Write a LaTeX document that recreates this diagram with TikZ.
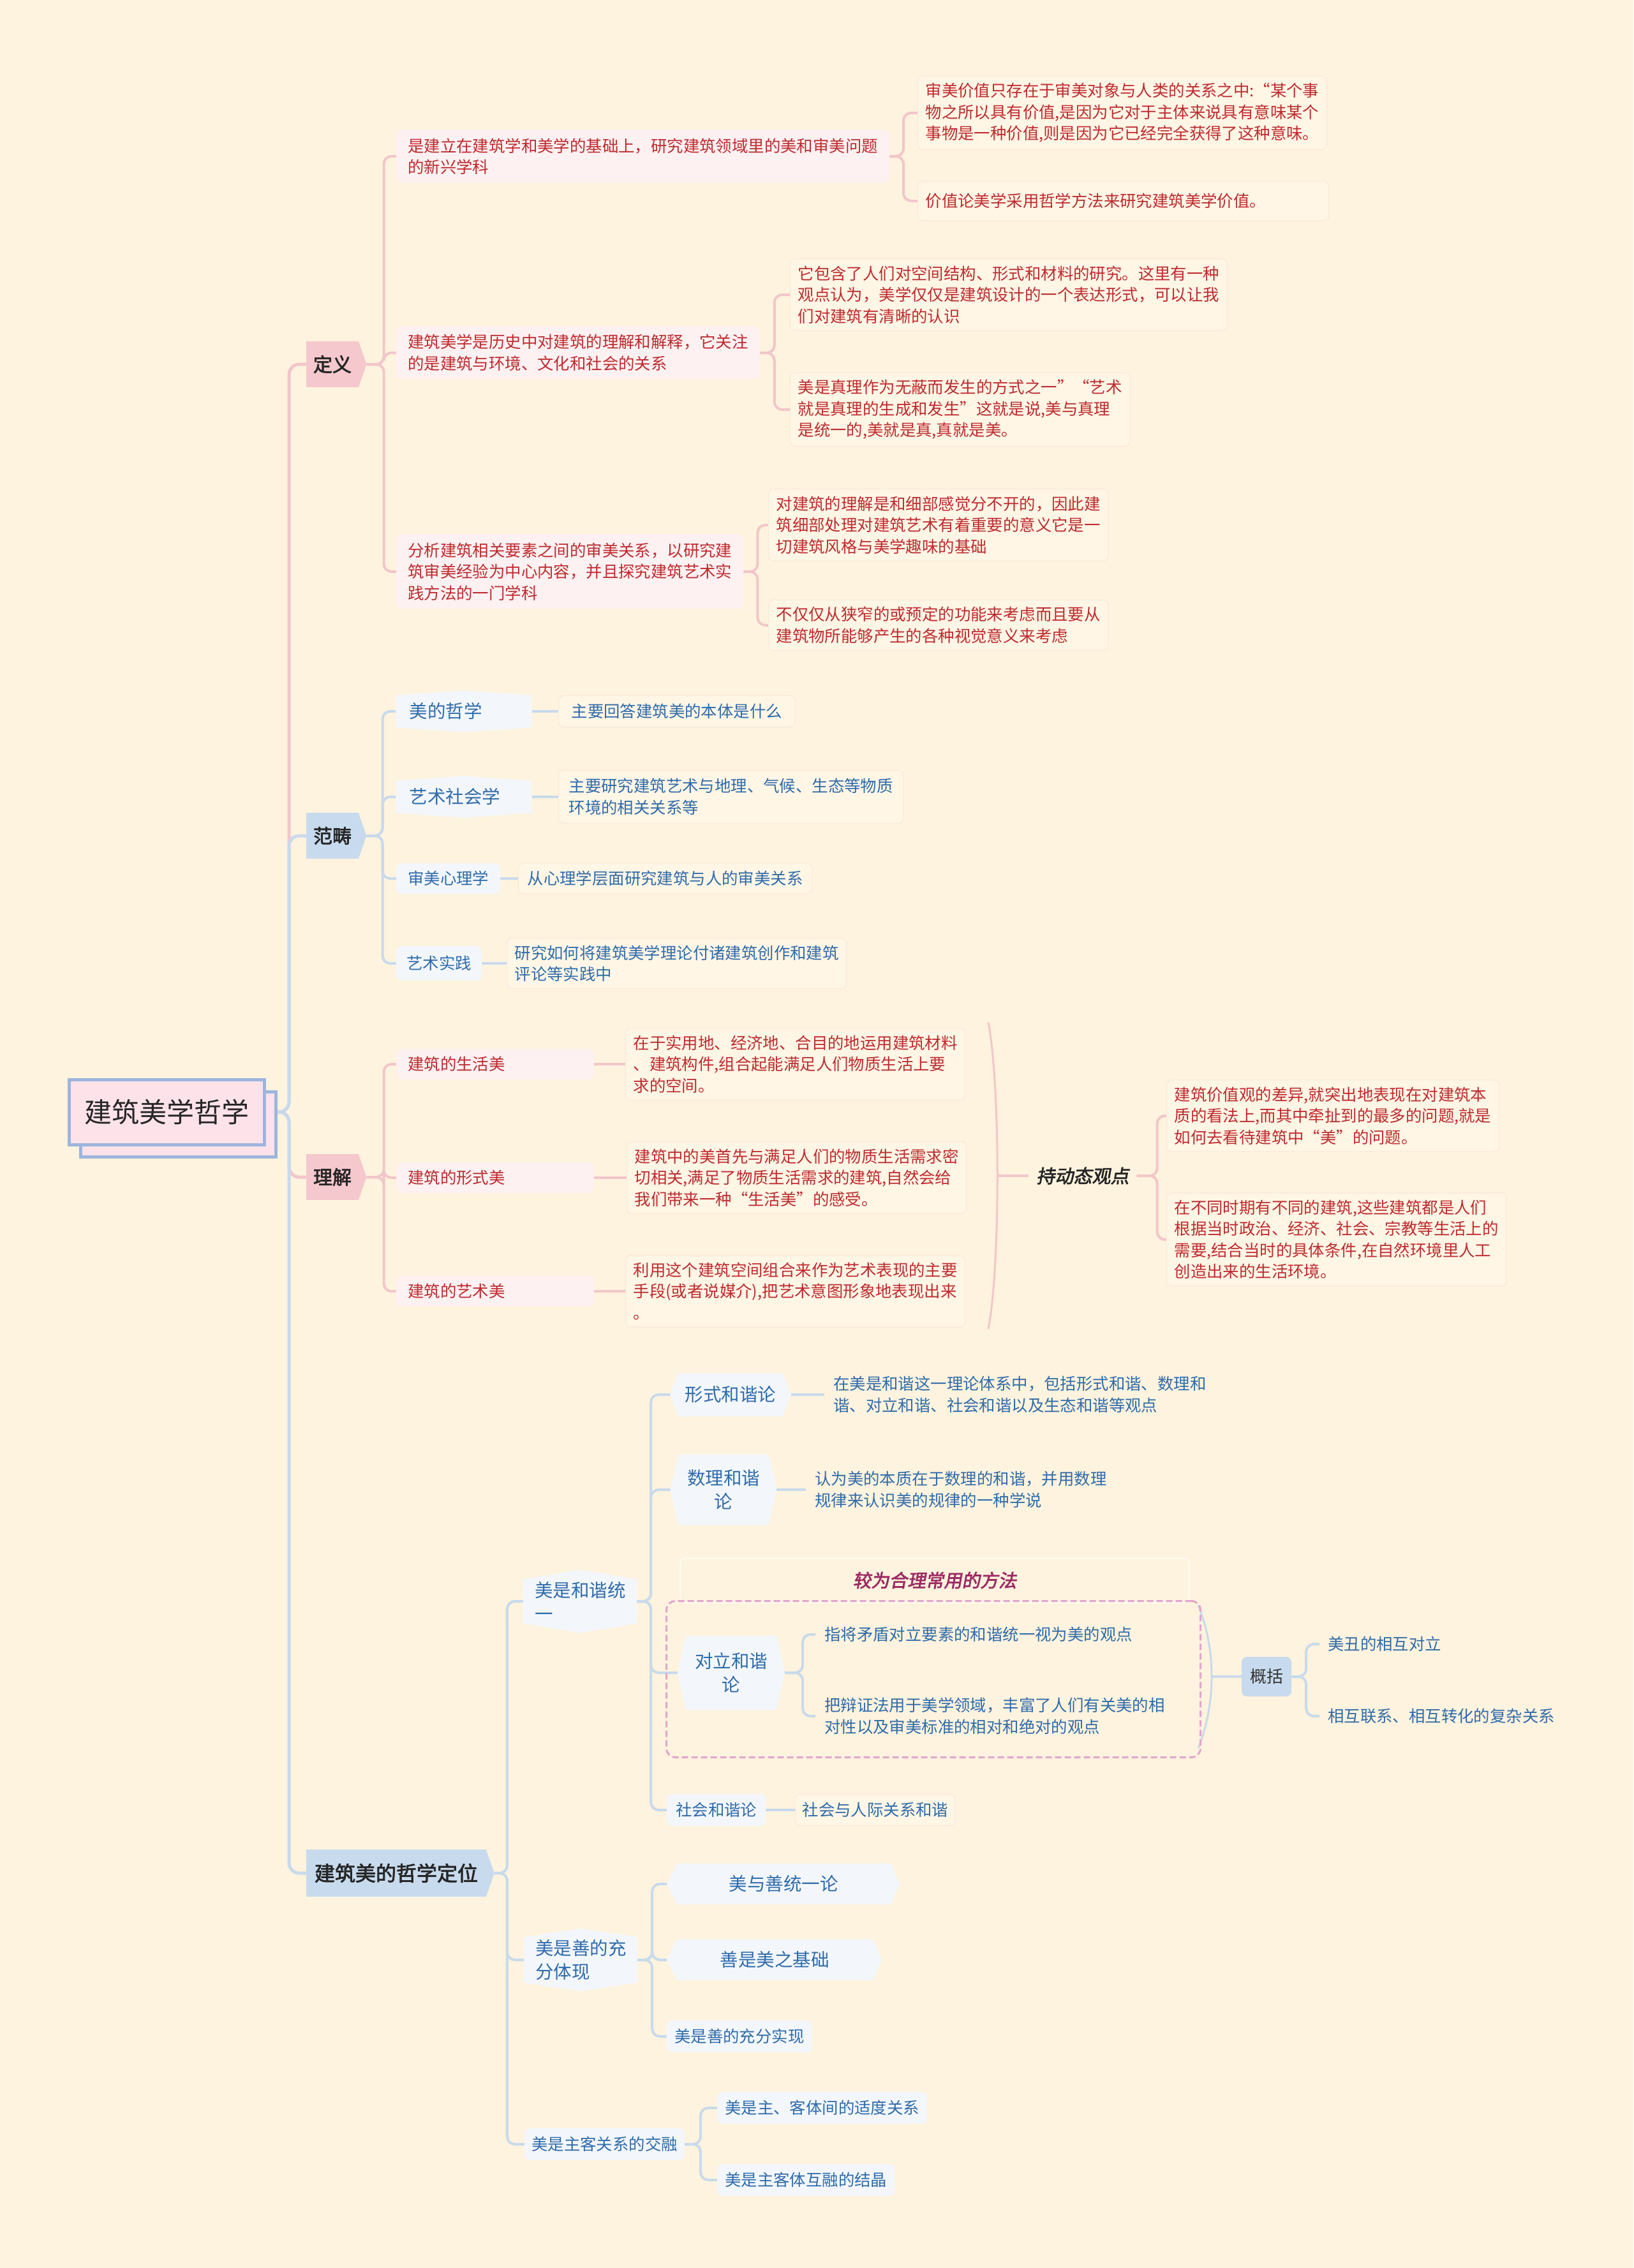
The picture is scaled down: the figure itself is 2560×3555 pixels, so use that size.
\documentclass[tikz,border=0pt]{standalone}
\usepackage{fontspec}
\setmainfont{Noto Sans CJK SC}
\newfontfamily\cjkbold[FakeBold=2.5]{Noto Sans CJK SC}
\newfontfamily\cjkslant[FakeBold=2.5,FakeSlant=0.18]{Noto Sans CJK SC}
\usepackage{xcolor}
\usepackage{tikz}
\usetikzlibrary{positioning,shapes.symbols,shadows,backgrounds,calc}
\pgfdeclarelayer{paperlayer}
\pgfdeclarelayer{background}
\pgfsetlayers{paperlayer,background,main}

\definecolor{paper}{HTML}{FEF3DE}
\definecolor{redtxt}{HTML}{BE2A2E}
\definecolor{bluetxt}{HTML}{2F6BAA}
\definecolor{lnpink}{HTML}{F2C6CA}
\definecolor{lnblue}{HTML}{C8DAEC}
\definecolor{pinktop}{HTML}{F5C8CD}
\definecolor{bluetop}{HTML}{C8DBEE}
\definecolor{redfill}{HTML}{FDF1F2}
\definecolor{bluefill}{HTML}{F3F7FC}
\definecolor{notefill}{HTML}{FFF6E6}
\definecolor{notedraw}{HTML}{FAE8DA}
\definecolor{dashpink}{HTML}{E2A6CE}
\definecolor{magtxt}{HTML}{9C2A62}
\definecolor{rootdraw}{HTML}{9DB5DD}
\definecolor{rootfill}{HTML}{FDE2EA}

\newcommand\fsnote{\fontsize{25.4}{33.5}\selectfont}
\newcommand\fshex{\fontsize{28.5}{37}\selectfont}

\begin{document}
\begin{tikzpicture}[
    x=1pt, y=-1pt,
    rootbox/.style={draw=rootdraw, line width=5pt, fill=rootfill, minimum width=306pt, minimum height=102pt, font=\fontsize{43}{50}\selectfont, text=black!85, copy shadow={shadow xshift=18pt, shadow yshift=-19pt}},
    toppink/.style={signal, signal to=east, signal pointer angle=142, fill=pinktop, font=\cjkbold\fontsize{30}{36}\selectfont, text=black!85, inner xsep=11pt, inner ysep=22pt},
    topblue/.style={toppink, fill=bluetop},
    redsub/.style={rounded corners=8pt, fill=redfill, text=redtxt, font=\fsnote, align=left, inner xsep=18pt, inner ysep=13pt},
    rednote/.style={rounded corners=8pt, fill=notefill, draw=notedraw, line width=1.2pt, text=redtxt, font=\fsnote, align=left, inner xsep=12pt, inner ysep=11pt},
    bluenote/.style={rednote, text=bluetxt},
    bluesub/.style={rounded corners=8pt, fill=bluefill, text=bluetxt, font=\fsnote, align=left, inner xsep=12pt, inner ysep=13pt},
    bluetext/.style={text=bluetxt, font=\fsnote, align=left, inner xsep=14pt, inner ysep=6pt},
    tallhex/.style={signal, signal to=north and south, fill=bluefill, text=bluetxt, font=\fshex, align=left},
    widehex/.style={signal, signal to=east and west, fill=bluefill, text=bluetxt, font=\fshex, align=center},
    tagbox/.style={draw=white!75!paper, line width=1.5pt, rounded corners=10pt, minimum width=798pt, minimum height=70pt, font=\cjkslant\fontsize{28.5}{34}\selectfont, text=magtxt},
    dashbox/.style={draw=dashpink, dash pattern=on 10pt off 5pt, line width=3pt, rounded corners=14pt, minimum width=837pt, minimum height=245pt},
    sumbox/.style={rounded corners=8pt, fill=bluetop, text=black!80, font=\fontsize{26}{30}\selectfont, minimum width=78pt, minimum height=62pt},
    pinkmain/.style={draw=lnpink, line width=5pt, rounded corners=16pt},
    bluemain/.style={draw=lnblue, line width=5pt, rounded corners=16pt},
    pinkwire/.style={draw=lnpink, line width=4pt, rounded corners=12pt},
    bluewire/.style={draw=lnblue, line width=4pt, rounded corners=12pt},
  ]
  \useasboundingbox (0,0) rectangle (2560,3555);
  \begin{pgfonlayer}{paperlayer}
    \fill[paper] (0,0) rectangle (2560,3555);
  \end{pgfonlayer}

  % root and main branches
  \node[rootbox] (root) at (261,1743) {建筑美学哲学};
  \coordinate (hub) at (453,1743);
  \node[toppink] (def) at (521,571) {定义};
  \node[topblue] (cat) at (521,1310) {范畴};
  \node[toppink] (und) at (521,1845) {理解};
  \node[topblue, font=\cjkbold\fontsize{32}{38}\selectfont, inner xsep=13pt] (pos) at (621,2936) {建筑美的哲学定位};

  % 定义
  \node[redsub, anchor=west] (d1) at (621,245) {是建立在建筑学和美学的基础上，研究建筑领域里的美和审美问题\\的新兴学科};
  \node[redsub, anchor=west] (d2) at (621,553) {建筑美学是历史中对建筑的理解和解释，它关注\\的是建筑与环境、文化和社会的关系};
  \node[redsub, anchor=west] (d3) at (621,896) {分析建筑相关要素之间的审美关系，以研究建\\筑审美经验为中心内容，并且探究建筑艺术实\\践方法的一门学科};
  \node[rednote, anchor=west] (d1a) at (1438,177) {审美价值只存在于审美对象与人类的关系之中:“某个事\\物之所以具有价值,是因为它对于主体来说具有意味某个\\事物是一种价值,则是因为它已经完全获得了这种意味。};
  \node[rednote, anchor=west, text width=620pt, inner ysep=19pt] (d1b) at (1438,315) {价值论美学采用哲学方法来研究建筑美学价值。};
  \node[rednote, anchor=west] (d2a) at (1238,462) {它包含了人们对空间结构、形式和材料的研究。这里有一种\\观点认为，美学仅仅是建筑设计的一个表达形式，可以让我\\们对建筑有清晰的认识};
  \node[rednote, anchor=west] (d2b) at (1238,642) {美是真理作为无蔽而发生的方式之一”“艺术\\就是真理的生成和发生”这就是说,美与真理\\是统一的,美就是真,真就是美。};
  \node[rednote, anchor=west] (d3a) at (1204,823) {对建筑的理解是和细部感觉分不开的，因此建\\筑细部处理对建筑艺术有着重要的意义它是一\\切建筑风格与美学趣味的基础};
  \node[rednote, anchor=west] (d3b) at (1204,980) {不仅仅从狭窄的或预定的功能来考虑而且要从\\建筑物所能够产生的各种视觉意义来考虑};

  % 范畴
  \node[tallhex, signal pointer angle=172, text width=171pt, inner xsep=21pt, inner ysep=12pt] (c1) at (727,1115) {美的哲学};
  \node[bluenote, anchor=west, inner xsep=20pt, inner ysep=13pt] (c1a) at (875,1115) {主要回答建筑美的本体是什么};
  \node[tallhex, signal pointer angle=172, text width=171pt, inner xsep=21pt, inner ysep=12pt] (c2) at (727,1249) {艺术社会学};
  \node[bluenote, anchor=west, inner xsep=16pt, inner ysep=13pt] (c2a) at (875,1249) {主要研究建筑艺术与地理、气候、生态等物质\\环境的相关关系等};
  \node[bluesub, anchor=west, inner xsep=18pt, inner ysep=12pt] (c3) at (621,1377) {审美心理学};
  \node[bluenote, anchor=west, inner xsep=14pt, inner ysep=12pt] (c3a) at (812,1377) {从心理学层面研究建筑与人的审美关系};
  \node[bluesub, anchor=west, inner xsep=16pt, inner ysep=15pt] (c4) at (621,1510) {艺术实践};
  \node[bluenote, anchor=west] (c4a) at (794,1510) {研究如何将建筑美学理论付诸建筑创作和建筑\\评论等实践中};

  % 理解
  \node[redsub, anchor=west, text width=274pt, inner ysep=12pt] (u1) at (621,1668) {建筑的生活美};
  \node[redsub, anchor=west, text width=274pt, inner ysep=12pt] (u2) at (621,1846) {建筑的形式美};
  \node[redsub, anchor=west, text width=274pt, inner ysep=12pt] (u3) at (621,2024) {建筑的艺术美};
  \node[rednote, anchor=west] (u1a) at (980,1668) {在于实用地、经济地、合目的地运用建筑材料\\、建筑构件,组合起能满足人们物质生活上要\\求的空间。};
  \node[rednote, anchor=west] (u2a) at (982,1846) {建筑中的美首先与满足人们的物质生活需求密\\切相关,满足了物质生活需求的建筑,自然会给\\我们带来一种“生活美”的感受。};
  \node[rednote, anchor=west] (u3a) at (980,2024) {利用这个建筑空间组合来作为艺术表现的主要\\手段(或者说媒介),把艺术意图形象地表现出来\\。};
  \coordinate (brt) at (1549,1603);
  \coordinate (brb) at (1549,2083);
  \coordinate (brm) at (1563,1843);
  \node[font=\cjkslant\fontsize{29}{34}\selectfont, text=black!85, inner xsep=12pt] (dyn) at (1697,1843) {持动态观点};
  \node[rednote, anchor=west] (v1) at (1828,1749) {建筑价值观的差异,就突出地表现在对建筑本\\质的看法上,而其中牵扯到的最多的问题,就是\\如何去看待建筑中“美”的问题。};
  \node[rednote, anchor=west] (v2) at (1828,1943) {在不同时期有不同的建筑,这些建筑都是人们\\根据当时政治、经济、社会、宗教等生活上的\\需要,结合当时的具体条件,在自然环境里人工\\创造出来的生活环境。};

  % 建筑美的哲学定位
  \node[tallhex, signal pointer angle=161, text width=142pt, inner xsep=18pt, inner ysep=4pt] (p1) at (909,2510) {美是和谐统\\一};
  \node[widehex, signal pointer angle=140, text width=146pt, inner xsep=9pt, inner ysep=21pt] (p1a) at (1145,2186) {形式和谐论};
  \node[bluetext, anchor=west] (p1a1) at (1292,2186) {在美是和谐这一理论体系中，包括形式和谐、数理和\\谐、对立和谐、社会和谐以及生态和谐等观点};
  \node[widehex, signal pointer angle=155, text width=118pt, inner xsep=12pt, inner ysep=24pt] (p1b) at (1134,2335) {数理和谐\\论};
  \node[bluetext, anchor=west] (p1b1) at (1263,2335) {认为美的本质在于数理的和谐，并用数理\\规律来认识美的规律的一种学说};
  \node[tagbox] (tag) at (1465,2477) {较为合理常用的方法};
  \node[dashbox] (grp) at (1463,2632) {};
  \node[widehex, signal pointer angle=155, text width=118pt, inner xsep=12pt, inner ysep=27pt] (p1c) at (1146,2622) {对立和谐\\论};
  \node[bluetext, anchor=west] (p1c1) at (1278,2562) {指将矛盾对立要素的和谐统一视为美的观点};
  \node[bluetext, anchor=west] (p1c2) at (1278,2690) {把辩证法用于美学领域，丰富了人们有关美的相\\对性以及审美标准的相对和绝对的观点};
  \coordinate (gbt) at (1878,2516);
  \coordinate (gbb) at (1878,2740);
  \coordinate (gbm) at (1899,2628);
  \node[sumbox] (sum) at (1985,2628) {概括};
  \node[bluetext, anchor=west, inner xsep=13pt] (g1) at (2068,2577) {美丑的相互对立};
  \node[bluetext, anchor=west, inner xsep=13pt] (g2) at (2068,2690) {相互联系、相互转化的复杂关系};
  \node[bluesub, anchor=west, inner xsep=14pt] (p1d) at (1045,2837) {社会和谐论};
  \node[bluenote, anchor=west, inner xsep=11pt, inner ysep=13pt] (p1d1) at (1246,2837) {社会与人际关系和谐};
  \node[tallhex, signal pointer angle=163, text width=142pt, inner xsep=18pt, inner ysep=4pt] (p2) at (910,3072) {美是善的充\\分体现};
  \node[widehex, signal pointer angle=130, text width=315pt, inner xsep=10pt, inner ysep=19pt] (p2a) at (1228,2953) {美与善统一论};
  \node[widehex, signal pointer angle=130, text width=287pt, inner xsep=10pt, inner ysep=19pt] (p2b) at (1214,3072) {善是美之基础};
  \node[bluesub, anchor=west] (p2c) at (1045,3192) {美是善的充分实现};
  \node[bluesub, anchor=west, inner xsep=11pt] (p3) at (822,3361) {美是主客关系的交融};
  \node[bluesub, anchor=west] (p3a) at (1124,3304) {美是主、客体间的适度关系};
  \node[bluesub, anchor=west] (p3b) at (1124,3417) {美是主客体互融的结晶};

  \begin{scope}[on background layer]
    % trunk
    \draw[pinkmain] (root.east) -- (hub) |- (def.west);
    \draw[pinkmain] (root.east) -- (hub) |- (und.west);
    \draw[bluemain] (root.east) -- (hub) |- (cat.west);
    \draw[bluemain] (root.east) -- (hub) |- (pos.west);
    % 定义
    \draw[pinkwire] (def.east) -- ++(27,0) |- (d1.west);
    \draw[pinkwire] (def.east) -- ++(27,0) |- (d2.west);
    \draw[pinkwire] (def.east) -- ++(27,0) |- (d3.west);
    \draw[pinkwire] (d1.east) -- ++(22,0) |- (d1a.west);
    \draw[pinkwire] (d1.east) -- ++(22,0) |- (d1b.west);
    \draw[pinkwire] (d2.east) -- ++(23,0) |- (d2a.west);
    \draw[pinkwire] (d2.east) -- ++(23,0) |- (d2b.west);
    \draw[pinkwire] (d3.east) -- ++(22,0) |- (d3a.west);
    \draw[pinkwire] (d3.east) -- ++(22,0) |- (d3b.west);
    % 范畴
    \draw[bluewire] (cat.east) -- ++(25,0) |- (c1.west);
    \draw[bluewire] (cat.east) -- ++(25,0) |- (c2.west);
    \draw[bluewire] (cat.east) -- ++(25,0) |- (c3.west);
    \draw[bluewire] (cat.east) -- ++(25,0) |- (c4.west);
    \draw[bluewire] (c1.east) -- (c1a.west);
    \draw[bluewire] (c2.east) -- (c2a.west);
    \draw[bluewire] (c3.east) -- (c3a.west);
    \draw[bluewire] (c4.east) -- (c4a.west);
    % 理解
    \draw[pinkwire] (und.east) -- ++(27,0) |- (u1.west);
    \draw[pinkwire] (und.east) -- ++(27,0) |- (u2.west);
    \draw[pinkwire] (und.east) -- ++(27,0) |- (u3.west);
    \draw[pinkwire] (u1.east) -- (u1a.west);
    \draw[pinkwire] (u2.east) -- (u2a.west);
    \draw[pinkwire] (u3.east) -- (u3a.west);
    \draw[pinkwire, line width=3pt] (brt) .. controls (1568,1700) and (1568,1986) .. (brb);
    \draw[pinkwire] (brm) -- (dyn.west);
    \draw[pinkwire] (dyn.east) -- ++(32,0) |- (v1.west);
    \draw[pinkwire] (dyn.east) -- ++(32,0) |- (v2.west);
    % 建筑美的哲学定位
    \draw[bluewire] (pos.east) -- ++(20,0) |- (p1.west);
    \draw[bluewire] (pos.east) -- ++(20,0) |- (p2.west);
    \draw[bluewire] (pos.east) -- ++(20,0) |- (p3.west);
    \draw[bluewire] (p1.east) -- ++(22,0) |- (p1a.west);
    \draw[bluewire] (p1.east) -- ++(22,0) |- (p1b.west);
    \draw[bluewire] (p1.east) -- ++(22,0) |- (p1c.west);
    \draw[bluewire] (p1.east) -- ++(22,0) |- (p1d.west);
    \draw[bluewire] (p1a.east) -- (p1a1.west);
    \draw[bluewire] (p1b.east) -- (p1b1.west);
    \draw[bluewire] (p1c.east) -- ++(28,0) |- (p1c1.west);
    \draw[bluewire] (p1c.east) -- ++(28,0) |- (p1c2.west);
    \draw[bluewire, line width=3pt] (gbt) .. controls (1906,2585) and (1906,2671) .. (gbb);
    \draw[bluewire] (gbm) -- (sum.west);
    \draw[bluewire] (sum.east) -- ++(23,0) |- (g1.west);
    \draw[bluewire] (sum.east) -- ++(23,0) |- (g2.west);
    \draw[bluewire] (p1d.east) -- (p1d1.west);
    \draw[bluewire] (p2.east) -- ++(23,0) |- (p2a.west);
    \draw[bluewire] (p2.east) -- ++(23,0) |- (p2b.west);
    \draw[bluewire] (p2.east) -- ++(23,0) |- (p2c.west);
    \draw[bluewire] (p3.east) -- ++(25,0) |- (p3a.west);
    \draw[bluewire] (p3.east) -- ++(25,0) |- (p3b.west);
  \end{scope}
\end{tikzpicture}
\end{document}
